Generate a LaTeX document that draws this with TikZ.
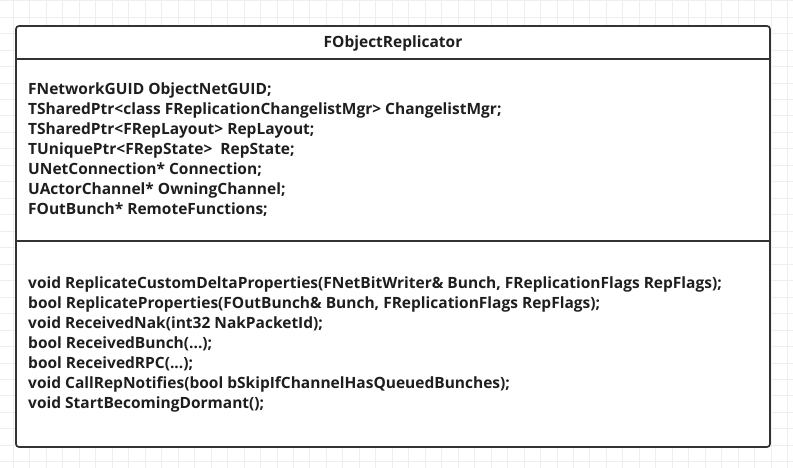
\documentclass[tikz,border=0pt]{standalone}
\usepackage{fontspec}
\setmainfont{Open Sans}
\usetikzlibrary{positioning}
\definecolor{boxline}{HTML}{333333}
\definecolor{membertext}{HTML}{1E1E1E}
\definecolor{gridgray}{HTML}{EEEEEE}

\begin{document}
\begin{tikzpicture}[x=1pt, y=-1pt, font=\fontsize{15.5}{19.9}\selectfont\bfseries,
    classbox/.style={draw=boxline, fill=white, line width=1.7pt, rounded corners=3pt},
    sepline/.style={draw=boxline, line width=1.7pt},
    member/.style={align=left, anchor=west, inner sep=0pt, text=membertext}]
  \useasboundingbox (0,0) rectangle (793,468);
  \clip (0,0) rectangle (793,468);
  % background grid
  \draw[gridgray, line width=0.6pt, xshift=13.3pt, yshift=-0.5pt] (-20,-20) grid[step=16.47pt] (800,480);

  % class box
  \draw[classbox] (16,26) rectangle (770,447);
  \coordinate (headL) at (16,59);   \coordinate (headR) at (770,59);
  \coordinate (bodyL) at (16,241);  \coordinate (bodyR) at (770,241);
  \draw[sepline] (headL) -- (headR);
  \draw[sepline] (bodyL) -- (bodyR);

  \node[text=membertext, inner sep=0pt] (title) at (393,43) {FObjectReplicator};

  \node[member] (attrs) at (28,149.5) {FNetworkGUID ObjectNetGUID;\\
    TSharedPtr<class FReplicationChangelistMgr> ChangelistMgr;\\
    TSharedPtr<FRepLayout> RepLayout;\\
    TUniquePtr<FRepState>~ RepState;\\
    UNetConnection* Connection;\\
    UActorChannel* OwningChannel;\\
    FOutBunch* RemoteFunctions;};

  \node[member] (methods) at (28,344.5) {void ReplicateCustomDeltaProperties(FNetBitWriter\& Bunch, FReplicationFlags RepFlags);\\
    bool ReplicateProperties(FOutBunch\& Bunch, FReplicationFlags RepFlags);\\
    void ReceivedNak(int32 NakPacketId);\\
    bool ReceivedBunch(...);\\
    bool ReceivedRPC(...);\\
    void CallRepNotifies(bool bSkipIfChannelHasQueuedBunches);\\
    void StartBecomingDormant();};
\end{tikzpicture}
\end{document}
